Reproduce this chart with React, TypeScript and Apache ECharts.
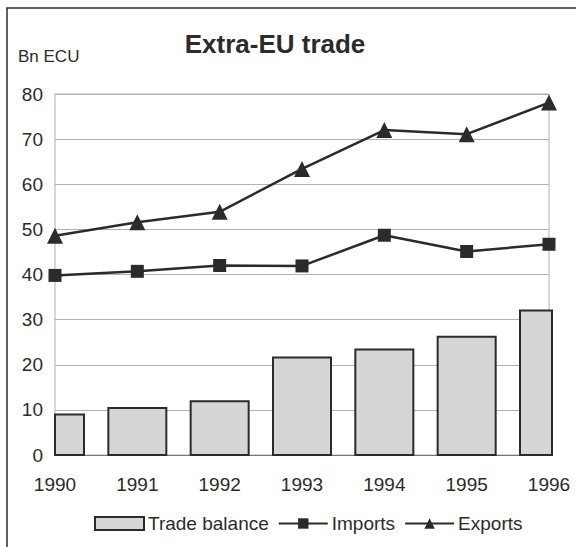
import React, { useEffect, useRef } from "react";
import * as echarts from "echarts";

const years = ["1990", "1991", "1992", "1993", "1994", "1995", "1996"];
const tradeBalance = [9.0, 10.4, 11.9, 21.6, 23.4, 26.2, 32.0];
const imports = [39.8, 40.7, 42.0, 41.9, 48.7, 45.1, 46.7];
const exports = [48.6, 51.6, 53.9, 63.4, 72.0, 71.1, 78.1];
const yTicks = { min: 0, max: 80, interval: 10 };

const FONT = "'Liberation Sans', Arial, Helvetica, sans-serif";
const INK = "#2b2b2b";
const BAR_FILL = "#d6d6d6";
const BAR_WIDTH = 58;

export default function App() {
  const ref = useRef<HTMLDivElement>(null);

  useEffect(() => {
    if (!ref.current) return;
    const chart = echarts.init(ref.current, undefined, { renderer: "svg" });
    chart.setOption({
      animation: false,
      backgroundColor: "#ffffff",
      textStyle: { fontFamily: FONT, color: INK },
      title: {
        text: "Extra-EU trade",
        left: 270,
        textAlign: "center",
        top: 26,
        textStyle: { fontFamily: FONT, fontSize: 26, fontWeight: "bold", color: INK },
      },
      graphic: [
        {
          type: "text",
          left: 18,
          top: 48,
          style: { text: "Bn ECU", font: `17px ${FONT}`, fill: INK },
        },
        {
          type: "polyline",
          shape: { points: [[7, 547], [7, 8], [576, 8]] },
          style: { stroke: INK, lineWidth: 1.5, fill: "none" },
        },
      ],
      legend: {
        left: 89,
        top: 509,
        itemWidth: 49,
        itemHeight: 13,
        itemGap: 9,
        textStyle: { fontFamily: FONT, fontSize: 19, color: INK, padding: [0, 0, 0, -1] },
        data: [
          {
            name: "Trade balance",
            icon: "rect",
            itemStyle: { color: BAR_FILL, borderColor: INK, borderWidth: 2 },
          },
          { name: "Imports" },
          { name: "Exports" },
        ],
      },
      grid: {
        left: 55,
        right: 27,
        top: 94,
        bottom: 92,
        show: true,
        borderColor: "#b0b0b0",
        borderWidth: 1,
      },
      xAxis: {
        type: "category",
        data: years,
        boundaryGap: false,
        axisTick: { show: false },
        axisLine: { lineStyle: { color: "#777", width: 1 } },
        axisLabel: { fontFamily: FONT, fontSize: 19, color: INK, margin: 20 },
        splitLine: { show: false },
      },
      yAxis: {
        type: "value",
        min: yTicks.min,
        max: yTicks.max,
        interval: yTicks.interval,
        axisLine: { show: false },
        axisTick: { show: false },
        axisLabel: { fontFamily: FONT, fontSize: 19, color: INK, margin: 12 },
        splitLine: { lineStyle: { color: "#b0b0b0", width: 1 } },
      },
      series: [
        {
          name: "Trade balance",
          type: "custom",
          z: 1,
          data: tradeBalance.map((v, i) => [i, v]),
          encode: { x: 0, y: 1 },
          itemStyle: { color: BAR_FILL, borderColor: INK, borderWidth: 2 },
          renderItem: (params: any, api: any) => {
            const top = api.coord([api.value(0), api.value(1)]);
            const base = api.coord([api.value(0), 0]);
            const cs = params.coordSys;
            // bars are centred on the category ticks and cut off at the plot edges
            const x0 = Math.max(top[0] - BAR_WIDTH / 2, cs.x);
            const x1 = Math.min(top[0] + BAR_WIDTH / 2, cs.x + cs.width + 3);
            return {
              type: "rect",
              shape: { x: x0, y: top[1], width: x1 - x0, height: base[1] - top[1] },
              style: { fill: BAR_FILL, stroke: INK, lineWidth: 2 },
            };
          },
        },
        {
          name: "Imports",
          type: "line",
          z: 3,
          data: imports,
          symbol: "rect",
          symbolSize: 13,
          lineStyle: { color: INK, width: 2.5 },
          itemStyle: { color: INK },
        },
        {
          name: "Exports",
          type: "line",
          z: 3,
          data: exports,
          symbol: "triangle",
          symbolSize: 16,
          lineStyle: { color: INK, width: 2.5 },
          itemStyle: { color: INK },
        },
      ],
    });
    return () => chart.dispose();
  }, []);

  return (
    <div
      ref={ref}
      style={{ position: "fixed", left: 0, top: 0, width: 576, height: 547 }}
    />
  );
}
